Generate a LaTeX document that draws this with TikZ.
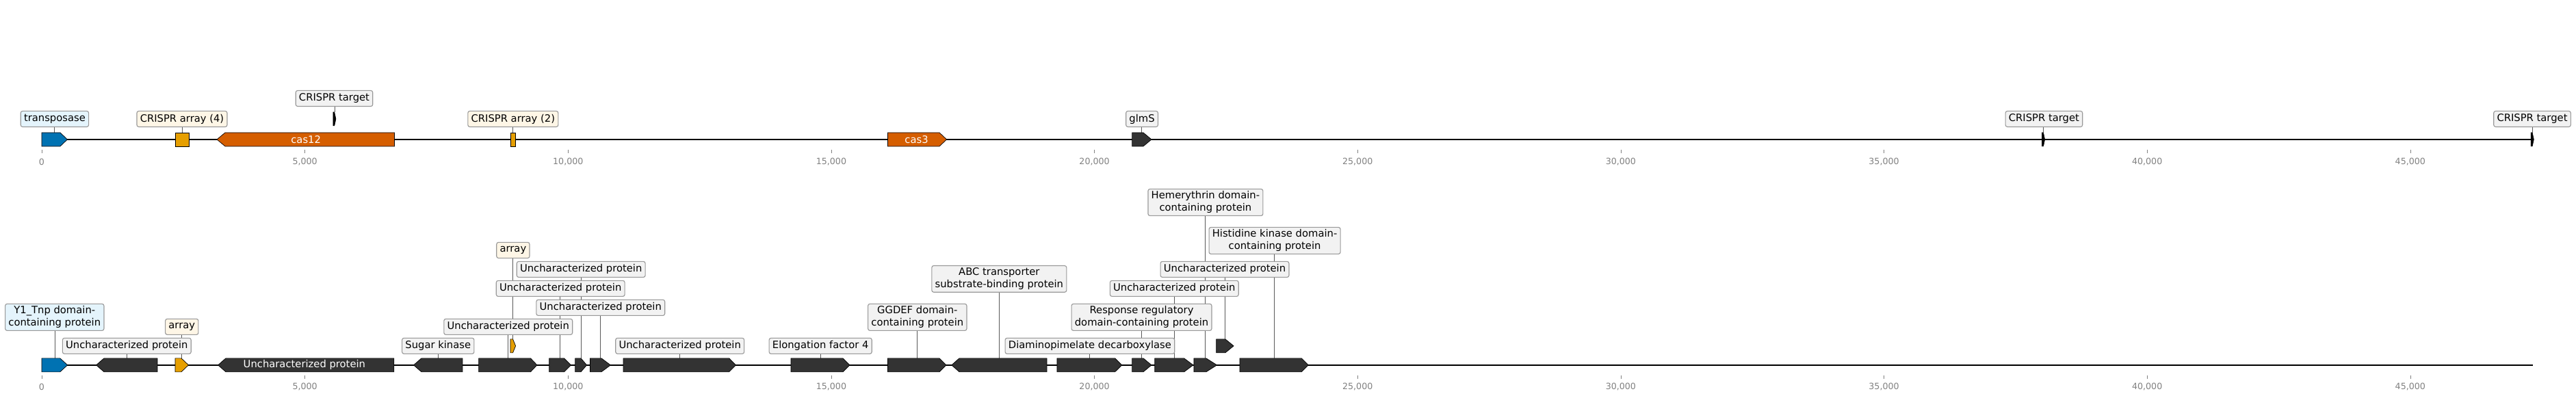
\documentclass[tikz,border=0pt]{standalone}
\usepackage{fontspec}
\setmainfont{DejaVu Sans}

\definecolor{tnpblue}{HTML}{0072B2}
\definecolor{arrayorange}{HTML}{E69F00}
\definecolor{casred}{HTML}{D55E00}
\definecolor{genegray}{HTML}{333333}
\definecolor{bluefill}{HTML}{E4F4FC}
\definecolor{creamfill}{HTML}{FEF6E6}
\definecolor{boxfill}{HTML}{F2F2F2}
\definecolor{boxline}{HTML}{999999}
\definecolor{tickgray}{HTML}{808080}

\pgfdeclarelayer{bg}
\pgfsetlayers{bg,main}

% forward gene: style, start, head base, tip, centre y, name of top point
\newcommand{\fwdgene}[6]{%
  \filldraw[#1] (#2,#5-10) -- (#3,#5-10) -- (#4,#5) -- (#3,#5+10) -- (#2,#5+10) -- cycle;
  \coordinate (#6) at ({(#2+#4)/2},#5-10);}
% reverse gene: style, tip, head base, end, centre y, name of top point
\newcommand{\revgene}[6]{%
  \filldraw[#1] (#2,#5) -- (#3,#5-10) -- (#4,#5-10) -- (#4,#5+10) -- (#3,#5+10) -- cycle;
  \coordinate (#6) at ({(#2+#4)/2},#5-10);}

\tikzset{
  gene/.style={fill=genegray, draw=black, line width=0.5pt},
  lab/.style={draw=boxline, line width=0.8pt, rounded corners=2pt, fill=boxfill,
    inner xsep=3.4pt, inner ysep=2.4pt, minimum height=16.4pt, align=center,
    font=\fontsize{10.5}{12.8}\selectfont},
  inlab/.style={text=white, font=\fontsize{10.5}{12.8}\selectfont},
  leader/.style={draw=black!65, line width=0.5pt},
  backbone/.style={line width=1.5pt},
  axtick/.style={draw=tickgray, line width=0.4pt},
  ticklab/.style={text=tickgray, font=\fontsize{9}{10}\selectfont},
}

\begin{document}
\begin{tikzpicture}[x=1.92325cm, y=-0.025cm]
\useasboundingbox (-0.793,0) rectangle (48.148,582);

% axes
\foreach \k/\t in {0/0,5/{5,000},10/{10,000},15/{15,000},20/{20,000},25/{25,000},30/{30,000},35/{35,000},40/{40,000},45/{45,000}} {
  \draw[axtick] (\k,219) -- (\k,224);
  \node[ticklab] at (\k,237) {\t};
  \draw[axtick] (\k,549) -- (\k,554);
  \node[ticklab] at (\k,566) {\t};
}

% top track
\draw[backbone] (0,204) -- (47.328,204);
\fwdgene{fill=tnpblue, draw=black, line width=0.5pt}{0}{0.351}{0.487}{204}{tT}
\filldraw[fill=arrayorange, draw=black, line width=0.5pt] (2.535,194) rectangle (2.795,214);
\coordinate (tA4) at (2.665,194);
\revgene{fill=casred, draw=black, line width=0.5pt}{3.328}{3.484}{6.701}{204}{tC12}
\node[inlab] at (5.02,204) {cas12};
\fwdgene{fill=black}{5.537}{5.56}{5.589}{174}{tX1}
\filldraw[fill=arrayorange, draw=black, line width=0.5pt] (8.904,194) rectangle (8.995,214);
\coordinate (tA2) at (8.95,194);
\fwdgene{fill=casred, draw=black, line width=0.5pt}{16.073}{17.055}{17.192}{204}{tC3}
\node[inlab] at (16.62,204) {cas3};
\fwdgene{gene}{20.715}{20.928}{21.084}{204}{tG}
\fwdgene{fill=black}{38.0}{38.028}{38.056}{204}{tX2}
\fwdgene{fill=black}{47.29}{47.318}{47.346}{204}{tX3}

\node[lab, fill=bluefill] (ltT) at (0.246,174) {transposase};
\node[lab, fill=creamfill] (ltA4) at (2.665,174) {CRISPR array (4)};
\node[lab] (ltX1) at (5.557,144) {CRISPR target};
\node[lab, fill=creamfill] (ltA2) at (8.954,174) {CRISPR array (2)};
\node[lab] (ltG) at (20.903,174) {glmS};
\node[lab] (ltX2) at (38.04,174) {CRISPR target};
\node[lab] (ltX3) at (47.316,174) {CRISPR target};

% bottom track
\draw[backbone] (0,534) -- (47.328,534);
\fwdgene{fill=tnpblue, draw=black, line width=0.5pt}{0}{0.348}{0.490}{534}{gY}
\revgene{gene}{1.035}{1.183}{2.197}{534}{gU1}
\fwdgene{fill=arrayorange, draw=black, line width=0.5pt}{2.535}{2.652}{2.788}{534}{gA1}
\revgene{gene}{3.349}{3.497}{6.692}{534}{gBig}
\node[inlab] at (4.99,534) {Uncharacterized protein};
\revgene{gene}{7.065}{7.214}{7.994}{534}{gSK}
\fwdgene{gene}{8.301}{9.287}{9.411}{534}{gU2}
\fwdgene{fill=arrayorange, draw=black, line width=0.5pt}{8.904}{8.95}{9.003}{506}{gA2}
\fwdgene{gene}{9.641}{9.925}{10.053}{534}{gU3}
\fwdgene{gene}{10.134}{10.243}{10.355}{534}{gU4}
\fwdgene{gene}{10.418}{10.633}{10.807}{534}{gU5}
\fwdgene{gene}{11.049}{13.059}{13.187}{534}{gU6}
\fwdgene{gene}{14.234}{15.222}{15.352}{534}{gEF}
\fwdgene{gene}{16.072}{17.055}{17.185}{534}{gGG}
\revgene{gene}{17.286}{17.432}{19.096}{534}{gABC}
\fwdgene{gene}{19.29}{20.39}{20.523}{534}{gDAP}
\fwdgene{gene}{20.715}{20.928}{21.084}{534}{gRR}
\fwdgene{gene}{21.147}{21.703}{21.876}{534}{gU7}
\fwdgene{gene}{21.889}{22.122}{22.327}{534}{gHem}
\fwdgene{gene}{22.315}{22.486}{22.645}{506}{gU8}
\fwdgene{gene}{22.761}{23.935}{24.065}{534}{gHK}

\node[lab, fill=bluefill] (lY) at (0.244,464) {Y1\_Tnp domain-\\containing protein};
\node[lab] (lU1) at (1.616,506) {Uncharacterized protein};
\node[lab, fill=creamfill] (lA1) at (2.662,478) {array};
\node[lab] (lSK) at (7.53,506) {Sugar kinase};
\node[lab] (lU2) at (8.862,478) {Uncharacterized protein};
\node[lab, fill=creamfill] (lA2) at (8.955,366) {array};
\node[lab] (lU3) at (9.856,422) {Uncharacterized protein};
\node[lab] (lU4) at (10.246,394) {Uncharacterized protein};
\node[lab] (lU5) at (10.617,450) {Uncharacterized protein};
\node[lab] (lU6) at (12.124,506) {Uncharacterized protein};
\node[lab] (lEF) at (14.795,506) {Elongation factor 4};
\node[lab] (lGG) at (16.636,464) {GGDEF domain-\\containing protein};
\node[lab] (lABC) at (18.19,408) {ABC transporter\\substrate-binding protein};
\node[lab] (lDAP) at (19.913,506) {Diaminopimelate decarboxylase};
\node[lab] (lRR) at (20.896,464) {Response regulatory\\domain-containing protein};
\node[lab] (lU7) at (21.517,422) {Uncharacterized protein};
\node[lab] (lHem) at (22.11,296) {Hemerythrin domain-\\containing protein};
\node[lab] (lU8) at (22.475,394) {Uncharacterized protein};
\node[lab] (lHK) at (23.425,352) {Histidine kinase domain-\\containing protein};

% leaders, behind the boxes
\begin{pgfonlayer}{bg}
\foreach \l/\g in {ltT/tT,ltA4/tA4,ltX1/tX1,ltA2/tA2,ltG/tG,ltX2/tX2,ltX3/tX3,
  lY/gY,lU1/gU1,lA1/gA1,lSK/gSK,lU2/gU2,lA2/gA2,lU3/gU3,lU4/gU4,lU5/gU5,lU6/gU6,
  lEF/gEF,lGG/gGG,lABC/gABC,lDAP/gDAP,lRR/gRR,lU7/gU7,lHem/gHem,lU8/gU8,lHK/gHK}
  \draw[leader] (\g |- \l.south) -- (\g);
\end{pgfonlayer}
\end{tikzpicture}
\end{document}
